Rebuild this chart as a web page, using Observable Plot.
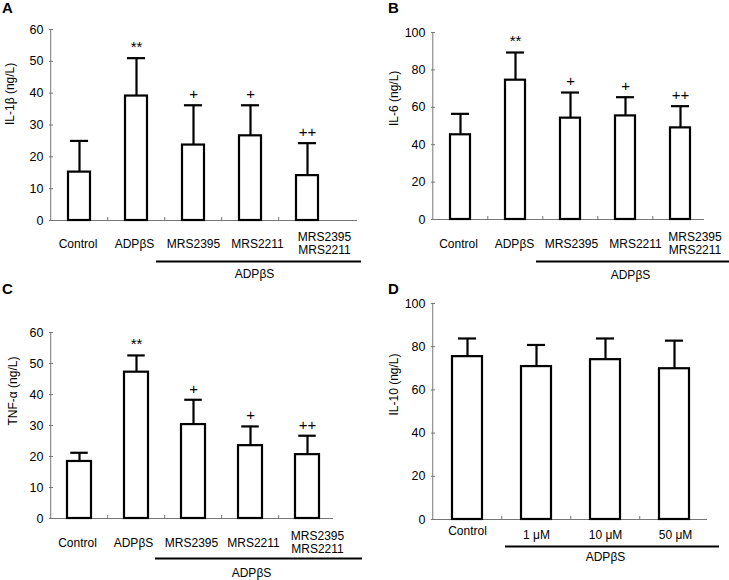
<!DOCTYPE html>
<html>
<head>
<meta charset="utf-8">
<script src="https://cdn.jsdelivr.net/npm/d3@7"></script>
<script src="https://cdn.jsdelivr.net/npm/@observablehq/plot@0.6"></script>
<style>
  html, body { margin: 0; padding: 0; background: #fff; }
  #root { position: relative; width: 729px; height: 580px; font-family: "Liberation Sans", Arial, sans-serif; }
  .panel { position: absolute; }
  .letter { position: absolute; font: bold 15px/15px "Liberation Sans", Arial, sans-serif; }
</style>
</head>
<body>
<div id="root"></div>
<script>
// ---------- data ----------
const catsABC = ["Control", "ADPβS", "MRS2395", "MRS2211", "MRS2395\nMRS2211"];
const sigABC = ["", "**", "+", "+", "++"];

const il1bMean = [15.2, 39.1, 23.7, 26.6, 14.1];
const il1bSD   = [9.8, 11.9, 12.5, 9.6, 10.2];

const il6Mean = [45.3, 74.5, 54.2, 55.4, 49.0];
const il6SD   = [11.2, 14.8, 13.7, 10.0, 11.6];

const tnfMean = [18.4, 47.2, 30.3, 23.5, 20.6];
const tnfSD   = [2.8, 5.4, 8.0, 6.2, 6.1];

const catsD = ["Control", "1 μM", "10 μM", "50 μM"];
const sigD = ["", "", "", ""];
const il10Mean = [75.4, 70.8, 74.0, 69.8];
const il10SD   = [8.4, 10.0, 9.8, 13.0];

const ticks60 = [0, 10, 20, 30, 40, 50, 60];
const ticks100 = [0, 20, 40, 60, 80, 100];

const groupLabel = "ADPβS";
const GRAY = "#777";
const FS = 12;

function panel(o) {
  const rows = o.cats.map((c, i) => ({cat: c, mean: o.mean[i], top: o.mean[i] + o.sd[i], sig: o.sig[i], grp: i >= o.g0, i}));
  const n = o.cats.length;
  const step = (o.range[1] - o.range[0]) / n;
  const bw = step * (1 - o.pi);
  const capInset = Math.max(0, (bw - 18) / 2);
  const ymax = o.ticks[o.ticks.length - 1];
  const labelMarks = rows.map(r => Plot.text([r], {
    x: "cat", text: "cat", frameAnchor: "bottom",
    dy: r.grp ? o.grpItemDy : o.labelDy, dx: o.labelDx[r.i],
    fontSize: FS, lineAnchor: "middle", lineHeight: 1.1
  }));
  return Plot.plot({
    width: o.width, height: o.height,
    marginTop: o.mt, marginBottom: o.mb, marginLeft: o.ml, marginRight: o.mr,
    style: {fontFamily: '"Liberation Sans", Arial, sans-serif', fontSize: FS + "px", background: "transparent", overflow: "visible", color: "black"},
    x: {type: "band", domain: o.cats, range: o.range, paddingInner: o.pi, paddingOuter: o.pi / 2, align: 0.5, axis: null},
    y: {domain: [0, ymax], label: null},
    marks: [
      Plot.ruleY([0], {stroke: GRAY, strokeWidth: 1}),
      Plot.ruleX([o.cats[0]], {y1: 0, y2: ymax, dx: -step / 2, stroke: GRAY, strokeWidth: 1}),
      Plot.axisY({ticks: o.ticks, tickSize: 0, tickPadding: 6, label: null, fontSize: 12.5}),
      Plot.axisY({ticks: o.ticks, tickSize: -4, tickFormat: () => "", label: null, stroke: GRAY}),
      Plot.axisX(o.cats.slice(1), {tickSize: -3, tickFormat: () => "", dx: -step / 2, label: null, stroke: GRAY}),
      Plot.ruleX(rows, {x: "cat", y1: "mean", y2: "top", stroke: "black", strokeWidth: 2.2}),
      Plot.tickY(rows, {x: "cat", y: "top", stroke: "black", strokeWidth: 2.2, inset: capInset}),
      Plot.barY(rows, {x: "cat", y: "mean", fill: "white", stroke: "black", strokeWidth: 2.2}),
      Plot.text(rows, {x: "cat", y: "top", text: "sig", dy: -11, fontSize: 15, lineAnchor: "middle"}),
      ...labelMarks,
      Plot.ruleY([0], {x1: () => o.cats[o.g0], x2: () => o.cats[n - 1], dy: o.ulDy, insetLeft: o.ulL, insetRight: o.ulR, stroke: "black", strokeWidth: 2}),
      Plot.text([groupLabel], {x: () => o.cats[o.gMid], text: d => d, frameAnchor: "bottom", dy: o.glDy, dx: o.glDx, fontSize: FS, lineAnchor: "middle"}),
      Plot.text([o.ylabel], {text: d => d, frameAnchor: "left", rotate: -90, dx: o.yDx, dy: o.yDy || 0, fontSize: 12, lineAnchor: "middle"})
    ]
  });
}

const specs = [
  {letter: "A", left: 0, top: 0, lx: 2, ly: 0,
   cats: catsABC, mean: il1bMean, sd: il1bSD, sig: sigABC, ticks: ticks60, ylabel: "IL-1β (ng/L)",
   width: 365, height: 290, mt: 29, mb: 70, ml: 49, mr: 8, range: [49, 337], pi: 0.62,
   g0: 2, gMid: 3, labelDy: 23, grpItemDy: 23, labelDx: [-1.5, -2, 0, 7, 17],
   ulDy: 41, ulL: -26, ulR: -43, glDy: 54, glDx: 4, yDx: -39},
  {letter: "B", left: 365, top: 0, lx: 388, ly: 0,
   cats: catsABC, mean: il6Mean, sd: il6SD, sig: sigABC, ticks: ticks100, ylabel: "IL-6 (ng/L)",
   width: 364, height: 290, mt: 32, mb: 71, ml: 66, mr: 25, range: [66, 343], pi: 0.64,
   g0: 2, gMid: 3, labelDy: 24, grpItemDy: 24, labelDx: [-2, -1, 1, 10, 14.5],
   ulDy: 42, ulL: -24, ulR: -48, glDy: 56, glDx: 5, yDx: -37},
  {letter: "C", left: 0, top: 290, lx: 2, ly: 281,
   cats: catsABC, mean: tnfMean, sd: tnfSD, sig: sigABC, ticks: ticks60, ylabel: "TNF-α (ng/L)",
   width: 365, height: 290, mt: 42, mb: 62, ml: 49, mr: 32, range: [49, 337], pi: 0.575,
   g0: 2, gMid: 3, labelDy: 24, grpItemDy: 24, labelDx: [-2, -3, -2, 3, 10],
   ulDy: 40, ulL: -26, ulR: -43, glDy: 55, glDx: 1, yDx: -36},
  {letter: "D", left: 365, top: 290, lx: 388, ly: 281,
   cats: catsD, mean: il10Mean, sd: il10SD, sig: sigD, ticks: ticks100, ylabel: "IL-10 (ng/L)",
   width: 364, height: 290, mt: 13, mb: 61, ml: 66, mr: 22, range: [66, 344], pi: 0.57,
   g0: 1, gMid: 2, labelDy: 11, grpItemDy: 15, labelDx: [0, 0, 0, 1],
   ulDy: 27, ulL: -16, ulR: -30, glDy: 38, glDx: 0, yDx: -37, yDy: 4}
];

const root = document.getElementById("root");
for (const s of specs) {
  const div = document.createElement("div");
  div.className = "panel";
  div.style.left = s.left + "px";
  div.style.top = s.top + "px";
  div.appendChild(panel(s));
  root.appendChild(div);
  const L = document.createElement("div");
  L.className = "letter";
  L.style.left = s.lx + "px";
  L.style.top = s.ly + "px";
  L.textContent = s.letter;
  root.appendChild(L);
}
</script>
</body>
</html>
